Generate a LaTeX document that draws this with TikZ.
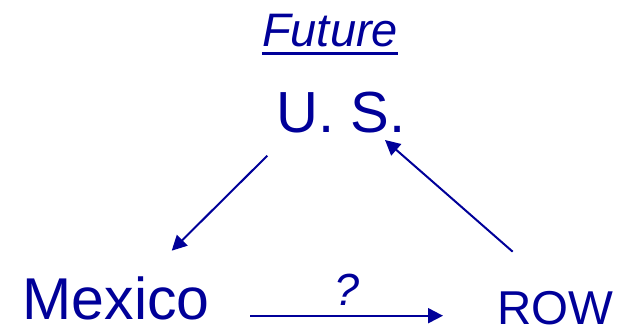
\documentclass[tikz,border=0pt]{standalone}
\usepackage{fontspec}
\setmainfont{Liberation Sans}
\usetikzlibrary{arrows.meta}
\definecolor{navy}{RGB}{0,0,153}
\begin{document}
\begin{tikzpicture}[x=1pt,y=1pt,
  lbl/.style={inner sep=0pt,anchor=base,text=navy},
  conn/.style={draw=navy,line width=2pt,-{Triangle[length=15pt,width=15pt]}}]
\useasboundingbox[fill=white] (0,0) rectangle (618,-326);
\node[lbl,font=\fontsize{47}{48}\selectfont\itshape] (future) at (330,-47) {Future};
\draw[navy,line width=3.2pt] ([yshift=-6.5pt]future.base west) -- ([yshift=-6.5pt]future.base east);
\node[lbl,font=\fontsize{58}{60}\selectfont] (us) at (341,-132) {U. S.};
\node[lbl,font=\fontsize{59}{60}\selectfont] (mexico) at (116,-319) {Mexico};
\node[lbl,font=\fontsize{47.5}{50}\selectfont] (row) at (555.5,-324) {ROW};
\node[lbl,font=\fontsize{45}{46}\selectfont\itshape] (q) at (347,-305) {?};
\coordinate (usout) at (267.3,-155.7);
\coordinate (mexin) at (171.7,-250.7);
\coordinate (rowout) at (512.7,-251.7);
\coordinate (usin) at (385,-140);
\coordinate (mexout) at (250,-315.7);
\coordinate (rowin) at (443,-315.7);
\draw[conn] (usout) -- (mexin);
\draw[conn] (rowout) -- (usin);
\draw[conn] (mexout) -- (rowin);
\end{tikzpicture}
\end{document}
